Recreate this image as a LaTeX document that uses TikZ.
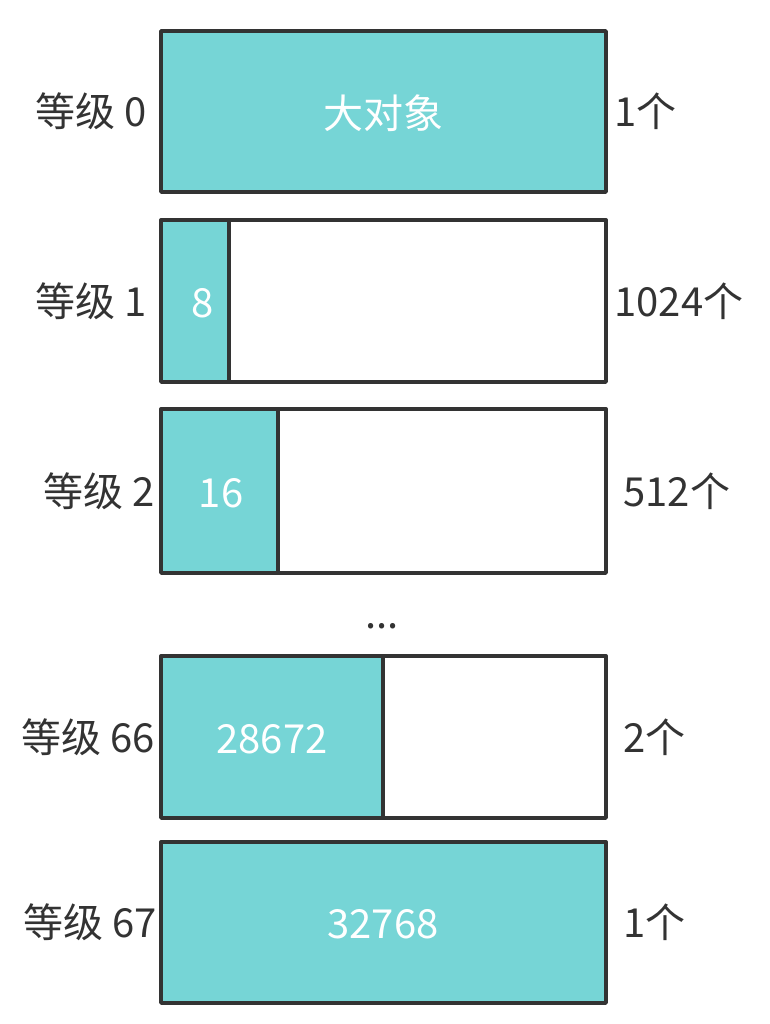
\documentclass[tikz,border=0pt]{standalone}
\usepackage{fontspec}
\setmainfont{Noto Sans CJK SC}
\definecolor{lvTeal}{HTML}{76D5D6}
\definecolor{lvInk}{HTML}{333333}
\tikzset{
  lv line/.style={draw=lvInk, line width=1.7pt, line join=round},
  lv fill/.style={fill=lvTeal},
  lv label/.style={font=\fontsize{20}{24}\selectfont, text=lvInk, inner sep=0pt},
  lv size/.style={font=\fontsize{20}{24}\selectfont, text=white, inner sep=0pt},
}

\begin{document}
\begin{tikzpicture}[x=0.5pt, y=-0.5pt]
  \useasboundingbox (0,0) rectangle (770,1024);
  % One row per size class: top/bottom, fill edge, label edges, texts
  \foreach \n/\top/\bot/\cut/\sx/\lx/\rx/\cnt/\sz in {
      0/31/192/606/383/147/614/1个/大对象,
      1/220/382/229/203/147/614/1024个/8,
      2/409/573/278/221/155/623/512个/16,
      66/656/818/383/272/155/623/2个/28672,
      67/842/1003/606/383/157/623/1个/32768} {
    \fill[lv fill] (161,\top) rectangle (\cut,\bot);
    \draw[lv line] (\cut,\top) -- (\cut,\bot);
    \draw[lv line] (161,\top) rectangle (606,\bot);
    \node[lv size] (sz\n) at (\sx,{(\top+\bot)/2+2}) {\sz};
    \node[lv label, anchor=east] (lv\n) at (\lx,{(\top+\bot)/2}) {等级 \n};
    \node[lv label, anchor=west] (cnt\n) at (\rx,{(\top+\bot)/2}) {\cnt};
  }
  % Skipped classes
  \node[lv label] (gap) at (382,626) {...};
\end{tikzpicture}
\end{document}
